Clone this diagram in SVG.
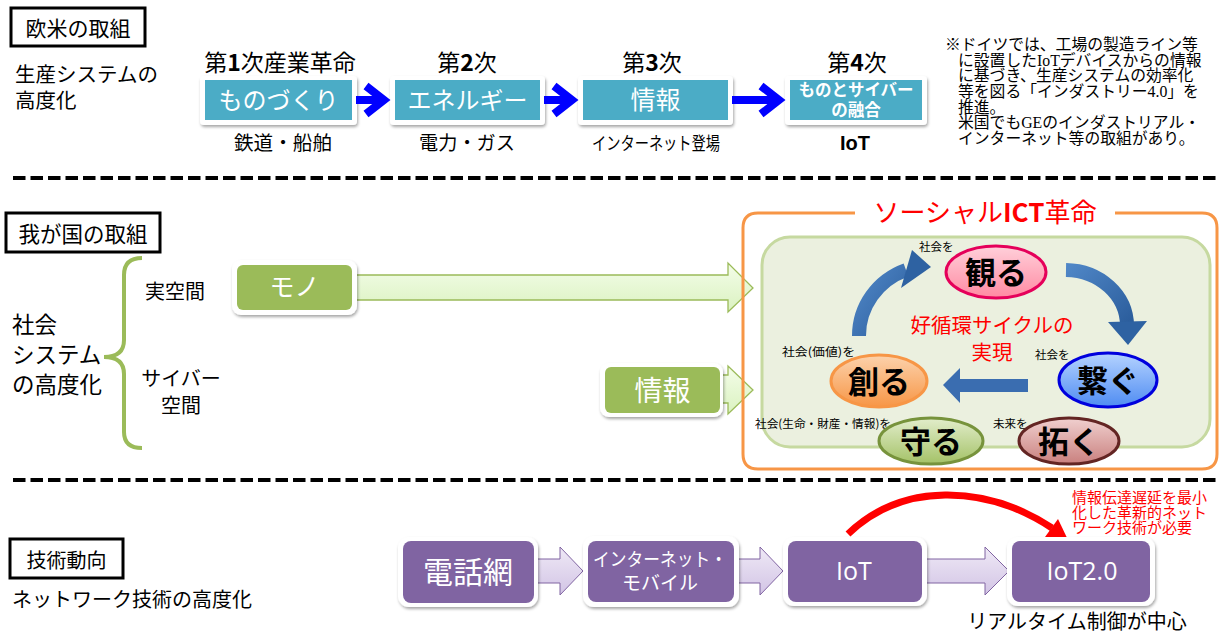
<svg xmlns="http://www.w3.org/2000/svg" width="1223" height="635" viewBox="0 0 1223 635">
<defs>
  <filter id="sh" x="-10%" y="-10%" width="125%" height="135%">
    <feDropShadow dx="1" dy="2" stdDeviation="1.6" flood-color="#000" flood-opacity="0.35"/>
  </filter>
  <linearGradient id="gArrow" x1="0" y1="0" x2="0" y2="1">
    <stop offset="0" stop-color="#F4FDE9"/><stop offset="1" stop-color="#DAF2C0"/>
  </linearGradient>
  <linearGradient id="pArrow" x1="0" y1="0" x2="0" y2="1">
    <stop offset="0" stop-color="#EFE9F6"/><stop offset="1" stop-color="#D2C4E5"/>
  </linearGradient>
  <linearGradient id="bArc" x1="0" y1="0" x2="1" y2="1">
    <stop offset="0" stop-color="#4F86C6"/><stop offset="1" stop-color="#2B5D9C"/>
  </linearGradient>
  <linearGradient id="eMiru" x1="0" y1="0" x2="0" y2="1">
    <stop offset="0" stop-color="#FFD0DA"/><stop offset="1" stop-color="#FF8AA2"/>
  </linearGradient>
  <linearGradient id="eTsunagu" x1="0" y1="0" x2="0" y2="1">
    <stop offset="0" stop-color="#B5D3FF"/><stop offset="1" stop-color="#4F8CF2"/>
  </linearGradient>
  <linearGradient id="eTsukuru" x1="0" y1="0" x2="0" y2="1">
    <stop offset="0" stop-color="#FCD2AC"/><stop offset="1" stop-color="#F79646"/>
  </linearGradient>
  <linearGradient id="eMamoru" x1="0" y1="0" x2="0" y2="1">
    <stop offset="0" stop-color="#E2EDCB"/><stop offset="1" stop-color="#A4C267"/>
  </linearGradient>
  <linearGradient id="eHiraku" x1="0" y1="0" x2="0" y2="1">
    <stop offset="0" stop-color="#F0D0CF"/><stop offset="1" stop-color="#C9807E"/>
  </linearGradient>
</defs>
<style>
  text { font-family: 'Noto Sans CJK JP', 'Noto Sans', sans-serif; fill:#000; }
  .note { font-family: 'Liberation Serif', 'Noto Sans CJK JP', serif; font-size:15.8px; }
  .hdr { fill:#fff; stroke:#000; stroke-width:3; }
  .frame { fill:#fff; filter:url(#sh); }
  .teal { fill:#4BACC6; }
  .grn { fill:#9BBB59; }
  .pur { fill:#8064A2; }
  .wt { fill:#fff; }
  .dash { stroke:#000; stroke-width:4; stroke-dasharray:12.5 5; }
  .blueArr { fill:none; stroke:#0000FF; stroke-width:8; }
  .gArr { fill:url(#gArrow); stroke:#9BBB59; stroke-width:1.3; }
  .pArr { fill:url(#pArrow); stroke:#8064A2; stroke-width:1; }
  .ell { stroke-width:3; }
  .etx { font-weight:bold; font-size:31px; text-anchor:middle; }
  .sm { font-size:11.5px; }
  .red { fill:#FF0000; }
</style>

<rect x="0" y="0" width="1223" height="635" fill="#fff"/>

<!-- separators -->
<line class="dash" x1="13" y1="178" x2="1218" y2="178"/>
<line class="dash" x1="13" y1="480" x2="1218" y2="480"/>

<!-- ===== Top section ===== -->
<g id="hdr-oubei">
  <rect class="hdr" x="11" y="8" width="134" height="38"/>
  <text x="78" y="36" font-size="21" text-anchor="middle">欧米の取組</text>
</g>
<g id="lbl-seisan">
  <text x="15" y="82" font-size="20.5">生産システムの</text>
  <text x="15" y="108" font-size="20.5">高度化</text>
</g>

<g id="n-gen1">
  <text x="280" y="71" font-size="23" text-anchor="middle">第<tspan font-weight="bold">1</tspan>次産業革命</text>
  <rect class="frame" x="200" y="76" width="157" height="49" rx="4"/>
  <rect class="teal" x="205" y="80" width="147" height="40"/>
  <text class="wt" x="278.5" y="108.5" font-size="24" text-anchor="middle">ものづくり</text>
  <text x="283" y="150" font-size="19.5" text-anchor="middle" textLength="98" lengthAdjust="spacingAndGlyphs">鉄道・船舶</text>
</g>
<g id="n-gen2">
  <text x="467" y="71" font-size="23" text-anchor="middle">第<tspan font-weight="bold">2</tspan>次</text>
  <rect class="frame" x="390" y="76" width="155" height="49" rx="4"/>
  <rect class="teal" x="395" y="80" width="145" height="40"/>
  <text class="wt" x="467.5" y="108.5" font-size="24" text-anchor="middle">エネルギー</text>
  <text x="467" y="150" font-size="19.5" text-anchor="middle" textLength="96" lengthAdjust="spacingAndGlyphs">電力・ガス</text>
</g>
<g id="n-gen3">
  <text x="652" y="71" font-size="23" text-anchor="middle">第<tspan font-weight="bold">3</tspan>次</text>
  <rect class="frame" x="578" y="76" width="155" height="49" rx="4"/>
  <rect class="teal" x="583" y="80" width="145" height="40"/>
  <text class="wt" x="655.5" y="109" font-size="25" text-anchor="middle">情報</text>
  <text x="656" y="150" font-size="18" text-anchor="middle" textLength="128" lengthAdjust="spacingAndGlyphs">インターネット登場</text>
</g>
<g id="n-gen4">
  <text x="857" y="71" font-size="23" text-anchor="middle">第<tspan font-weight="bold">4</tspan>次</text>
  <rect class="frame" x="785" y="76" width="142" height="49" rx="4"/>
  <rect class="teal" x="790" y="80" width="132" height="40"/>
  <text class="wt" x="856" y="95.5" font-size="16.5" font-weight="bold" text-anchor="middle">ものとサイバー</text>
  <text class="wt" x="856" y="116" font-size="16.5" font-weight="bold" text-anchor="middle">の融合</text>
  <text x="855" y="150" font-size="20" font-weight="bold" text-anchor="middle" style="font-family:'Liberation Sans', sans-serif">IoT</text>
</g>

<g id="note">
  <text class="note" x="945" y="50">※ドイツでは、工場の製造ライン等</text>
  <text class="note" x="958" y="65.7">に設置したIoTデバイスからの情報</text>
  <text class="note" x="958" y="81.3">に基づき、生産システムの効率化</text>
  <text class="note" x="958" y="97">等を図る「インダストリー4.0」を</text>
  <text class="note" x="958" y="112.7">推進。</text>
  <text class="note" x="958" y="128.3">米国でもGEのインダストリアル・</text>
  <text class="note" x="958" y="144">インターネット等の取組があり。</text>
</g>

<!-- ===== Middle section ===== -->
<g id="hdr-wagakuni">
  <rect class="hdr" x="6" y="213" width="154" height="39"/>
  <text x="83" y="242" font-size="21.5" text-anchor="middle">我が国の取組</text>
</g>
<g id="lbl-shakai">
  <text x="12" y="333" font-size="22.5">社会</text>
  <text x="12" y="363" font-size="22.5">システム</text>
  <text x="12" y="393" font-size="22.5">の高度化</text>
  <path d="M142,258 Q124,258 124,275 L124,340 Q124,357 104,357 Q124,357 124,374 L124,432 Q124,448 142,448" fill="none" stroke="#9BBB59" stroke-width="4"/>
  <text x="145" y="299" font-size="20">実空間</text>
  <text x="181" y="386" font-size="20" text-anchor="middle">サイバー</text>
  <text x="181" y="413" font-size="20" text-anchor="middle">空間</text>
</g>

<g id="connectors">
  <!-- top blue arrows -->
  <path class="blueArr" d="M356,100 H384 M366,86 L384,100 L366,114"/>
  <path class="blueArr" d="M544,100 H572 M554,86 L572,100 L554,114"/>
  <path class="blueArr" d="M732,100 H779 M761,86 L779,100 L761,114"/>
  <!-- green arrows -->
  <polygon class="gArr" points="350,275 728,275 728,263 753,288 728,312 728,300 350,300"/>
  <polygon class="gArr" points="715,375 728,375 728,366 753,390 728,414 728,403 715,403"/>
  <!-- purple arrows -->
  <polygon class="pArr" points="533,559 560,559 560,547 583,571 560,595 560,583 533,583"/>
  <polygon class="pArr" points="733,559 760,559 760,547 783,571 760,595 760,583 733,583"/>
  <polygon class="pArr" points="921,559 985,559 985,547 1009,571 985,595 985,583 921,583"/>
  <!-- red arc -->
  <path d="M848,534 C 902,482 985,484 1052,528" fill="none" stroke="#FF0000" stroke-width="7"/>
  <polygon points="1058,519 1069,542 1045,537" fill="#FF0000"/>
</g>

<g id="n-mono">
  <rect class="frame" x="232" y="260" width="125" height="55" rx="9"/>
  <rect class="grn" x="237" y="265" width="115" height="45" rx="6"/>
  <text class="wt" x="294.5" y="296" font-size="25" text-anchor="middle">モノ</text>
</g>
<g id="n-jouhou">
  <rect class="frame" x="600" y="363" width="123" height="54" rx="9"/>
  <rect class="grn" x="605" y="367" width="115" height="46" rx="6"/>
  <text class="wt" x="662.5" y="401" font-size="28" text-anchor="middle">情報</text>
</g>

<g id="social-ict">
  <path d="M855,213 L758,213 Q743,213 743,228 L743,454 Q743,469 758,469 L1202,469 Q1217,469 1217,454 L1217,228 Q1217,213 1202,213 L1115,213" fill="none" stroke="#F79646" stroke-width="3"/>
  <text x="985" y="222" font-size="26" text-anchor="middle" class="red">ソーシャル<tspan font-weight="bold" class="red">ICT</tspan>革命</text>
  <rect x="762" y="237" width="448" height="210" rx="28" fill="#EBF0DF" stroke="#C6D9A0" stroke-width="3"/>
  <text x="992" y="333" font-size="20.5" text-anchor="middle" class="red">好循環サイクルの</text>
  <text x="992" y="360" font-size="20.5" text-anchor="middle" class="red">実現</text>
</g>

<g id="cycle-arrows">
  <path d="M859,336 A72,70 0 0 1 906,270" fill="none" stroke="url(#bArc)" stroke-width="14"/>
  <polygon points="912,250 931,267 901,288" fill="#2E62A2"/>
  <path d="M1066,270 A62,56 0 0 1 1127,326" fill="none" stroke="url(#bArc)" stroke-width="14"/>
  <polygon points="1108,322 1147,321 1128,345" fill="#2E62A2"/>
  <polygon points="1028,379 960,379 960,368 943,385 960,403 960,392 1028,392" fill="#3A6DB0"/>
</g>

<g id="n-miru">
  <text class="sm" x="919" y="251">社会を</text>
  <ellipse class="ell" cx="996" cy="272" rx="50" ry="26" fill="url(#eMiru)" stroke="#E5005A"/>
  <text class="etx" x="996" y="284">観る</text>
</g>
<g id="n-tsunagu">
  <text class="sm" x="1035" y="359">社会を</text>
  <ellipse class="ell" cx="1108" cy="380" rx="49" ry="27" fill="url(#eTsunagu)" stroke="#0000DD"/>
  <text class="etx" x="1108" y="392">繋ぐ</text>
</g>
<g id="n-tsukuru">
  <text class="sm" x="782" y="356" textLength="73" lengthAdjust="spacingAndGlyphs">社会(価値)を</text>
  <ellipse class="ell" cx="879" cy="381" rx="48" ry="26" fill="url(#eTsukuru)" stroke="#F79646"/>
  <text class="etx" x="879" y="393">創る</text>
</g>
<g id="n-mamoru">
  <text class="sm" x="755" y="428" textLength="136" lengthAdjust="spacingAndGlyphs">社会(生命・財産・情報)を</text>
  <ellipse class="ell" cx="931" cy="441" rx="52" ry="23" fill="url(#eMamoru)" stroke="#77933C"/>
  <text class="etx" x="931" y="453">守る</text>
</g>
<g id="n-hiraku">
  <text class="sm" x="993" y="428">未来を</text>
  <ellipse class="ell" cx="1069" cy="441" rx="50" ry="23" fill="url(#eHiraku)" stroke="#632523"/>
  <text class="etx" x="1069" y="453">拓く</text>
</g>

<!-- ===== Bottom section ===== -->
<g id="hdr-gijutsu">
  <rect class="hdr" x="10" y="539" width="113" height="39"/>
  <text x="66.5" y="568" font-size="20" text-anchor="middle">技術動向</text>
  <text x="12" y="607" font-size="20">ネットワーク技術の高度化</text>
</g>
<g id="n-denwa">
  <rect class="frame" x="398" y="537" width="140" height="70" rx="11"/>
  <rect class="pur" x="403" y="541" width="131" height="62" rx="8"/>
  <text class="wt" x="468" y="583" font-size="30" text-anchor="middle">電話網</text>
</g>
<g id="n-inet">
  <rect class="frame" x="583" y="536" width="156" height="71" rx="11"/>
  <rect class="pur" x="588" y="541" width="146" height="61" rx="8"/>
  <text class="wt" x="660" y="566" font-size="18.5" text-anchor="middle" textLength="134" lengthAdjust="spacingAndGlyphs">インターネット・</text>
  <text class="wt" x="660" y="590" font-size="19" text-anchor="middle">モバイル</text>
</g>
<g id="n-iot">
  <rect class="frame" x="783" y="537" width="144" height="69" rx="11"/>
  <rect class="pur" x="788" y="541" width="134" height="61" rx="8"/>
  <text class="wt" x="854" y="580" font-size="25" text-anchor="middle" style="font-family:'Open Sans','Liberation Sans',sans-serif">IoT</text>
</g>
<g id="n-iot2">
  <rect class="frame" x="1007" y="537" width="148" height="69" rx="11"/>
  <rect class="pur" x="1012" y="541" width="138" height="61" rx="8"/>
  <text class="wt" x="1082" y="580" font-size="25" text-anchor="middle" style="font-family:'Open Sans','Liberation Sans',sans-serif">IoT2.0</text>
  <text x="1077" y="629" font-size="20" text-anchor="middle">リアルタイム制御が中心</text>
</g>
<g id="lbl-red-note">
  <text class="red" x="1072" y="503" font-size="15">情報伝達遅延を最小</text>
  <text class="red" x="1072" y="518" font-size="15">化した革新的ネット</text>
  <text class="red" x="1072" y="532.5" font-size="15">ワーク技術が必要</text>
</g>
</svg>
